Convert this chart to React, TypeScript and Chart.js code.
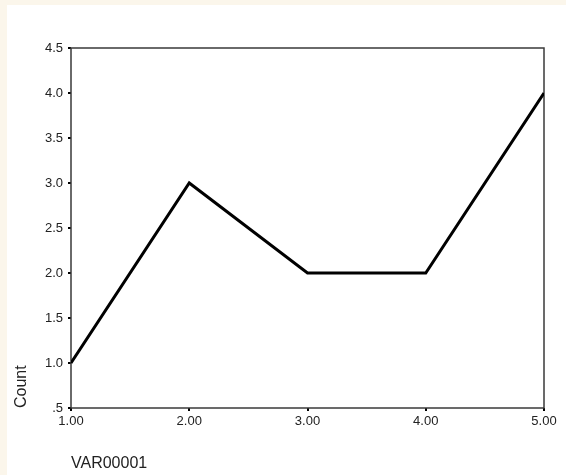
import React, { useEffect, useRef } from "react";
import { Chart, registerables } from "chart.js";

Chart.register(...registerables);

const categories = [1, 2, 3, 4, 5];
const counts = [1, 3, 2, 2, 4];
const xTickLabels = ["1.00", "2.00", "3.00", "4.00", "5.00"];
const yTickLabels = [".5", "1.0", "1.5", "2.0", "2.5", "3.0", "3.5", "4.0", "4.5"];
const xTitle = "VAR00001";
const yTitle = "Count";

const framePlugin = {
  id: "frame",
  beforeDatasetsDraw(chart: any) {
    const { ctx, chartArea } = chart;
    ctx.save();
    ctx.strokeStyle = "#3a3a3a";
    ctx.lineWidth = 1.5;
    ctx.strokeRect(chartArea.left, chartArea.top, chartArea.right - chartArea.left, chartArea.bottom - chartArea.top);
    ctx.restore();
  },
};

export default function App() {
  const ref = useRef<HTMLCanvasElement>(null);
  useEffect(() => {
    if (!ref.current) return;
    const font = "'Liberation Sans', Arial, sans-serif";
    const chart = new Chart(ref.current, {
      type: "line",
      data: {
        datasets: [
          {
            data: categories.map((c, i) => ({ x: c, y: counts[i] })),
            borderColor: "#000000",
            borderWidth: 3,
            pointRadius: 0,
            tension: 0,
            fill: false,
          },
        ],
      },
      options: {
        responsive: false,
        animation: false,
        events: [],
        layout: { padding: { left: 0, top: 43, right: 22, bottom: 2 } },
        plugins: { legend: { display: false }, tooltip: { enabled: false } },
        scales: {
          x: {
            type: "linear",
            min: 1,
            max: 5,
            border: { display: false },
            grid: { drawOnChartArea: false, drawTicks: true, tickLength: 3, color: "#000", lineWidth: 2 },
            ticks: {
              stepSize: 1,
              padding: 3,
              color: "#222",
              font: { family: font, size: 13 },
              maxRotation: 0,
              callback: (v: any, i: number) => xTickLabels[i] ?? "",
            },
            title: {
              display: true,
              text: xTitle,
              align: "start",
              color: "#222",
              font: { family: font, size: 16 },
              padding: { top: 0, bottom: 0 },
            },
            afterFit: (s: any) => {
              s.height = 65;
            },
          },
          y: {
            type: "linear",
            min: 0.5,
            max: 4.5,
            border: { display: false },
            grid: { drawOnChartArea: false, drawTicks: true, tickLength: 3, color: "#000", lineWidth: 2 },
            ticks: {
              stepSize: 0.5,
              padding: 5,
              color: "#222",
              font: { family: font, size: 13 },
              callback: (v: any, i: number) => yTickLabels[i] ?? "",
            },
            title: {
              display: true,
              text: yTitle,
              align: "start",
              color: "#222",
              font: { family: font, size: 16 },
              padding: { top: 5, bottom: 0 },
            },
            afterFit: (s: any) => {
              s.width = 64;
            },
          },
        },
      },
      plugins: [framePlugin],
    });
    return () => chart.destroy();
  }, []);

  return (
    <div style={{ position: "fixed", left: 0, top: 0, width: 566, height: 475, background: "#fbf6eb" }}>
      <div style={{ position: "absolute", left: 7, top: 5, width: 559, height: 470, background: "#ffffff" }}>
        <canvas ref={ref} width={559} height={470} style={{ display: "block" }} />
      </div>
    </div>
  );
}
